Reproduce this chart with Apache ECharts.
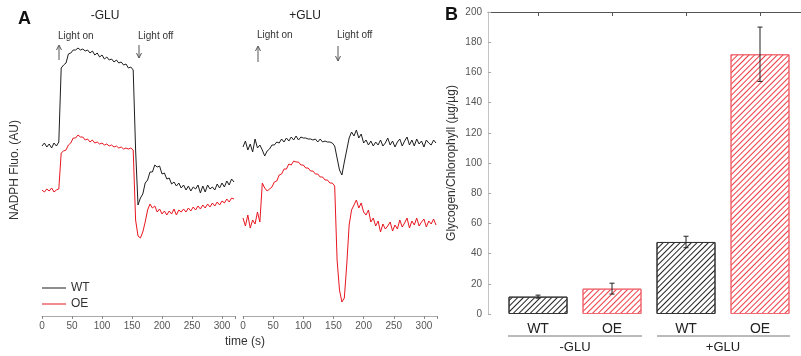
<!DOCTYPE html>
<html>
<head>
<meta charset="utf-8">
<script src="https://cdn.jsdelivr.net/npm/echarts@6/dist/echarts.min.js"></script>
<style>html,body{margin:0;padding:0;background:#fff}#c{width:801px;height:356px}</style>
</head>
<body>
<div id="c"></div>
<script>
// ---- Panel A: time samples (s) ----
const time = [0,4,8,12,16,20,24,28,32,36,40,44,48,52,56,60,64,68,72,76,80,84,88,92,96,100,104,108,112,116,120,124,128,132,136,140,144,148,152,156,160,164,168,172,176,180,184,188,192,196,200,204,208,212,216,220,224,228,232,236,240,244,248,252,256,260,264,268,272,276,280,284,288,292,296,300,304,308,312,316,320];
// NADPH fluorescence (AU), -GLU
const wtMinusGlu = [170,173,169,172,168,173,170,174,
  248,251,253,262,263,266,266,268,266,267,265,266,263,265,261,263,259,261,257,259,256,257,254,256,253,254,251,252,248,249,246,
  166,111,118,122,133,136,144,144,151,149,150,142,143,137,138,132,134,130,133,128,131,126,130,125,129,127,131,123,130,124,131,127,129,126,132,128,133,129,135,131,137,134];
const oeMinusGlu = [126,124,127,125,128,124,126,127,
  163,165,166,171,173,178,178,181,179,179,176,177,174,176,173,174,172,173,171,172,170,171,169,170,168,169,167,168,167,168,166,
  96,80,78,84,94,106,112,108,110,104,107,102,105,101,105,102,107,101,106,104,107,104,108,105,109,106,110,107,111,108,112,109,113,110,114,111,115,113,117,114,118,117];
// NADPH fluorescence (AU), +GLU
const wtPlusGlu = [169,175,166,172,164,177,168,171,
  166,160,165,167,171,171,174,173,177,174,178,175,179,176,180,176,179,178,178,177,177,176,177,174,177,174,175,174,174,173,170,
  158,146,141,154,166,178,184,180,186,178,182,173,176,171,175,170,174,171,176,170,173,178,171,175,169,174,177,170,175,179,171,176,170,177,172,175,169,176,173,171,176,173];
const oePlusGlu = [98,90,101,88,96,92,104,94,
  133,128,125,127,129,134,135,141,142,147,147,152,151,155,154,154,151,151,148,148,145,145,142,142,139,139,136,136,133,133,130,
  56,26,14,18,51,91,106,111,116,108,113,104,101,106,94,98,90,95,84,92,87,90,94,85,91,87,96,89,93,98,88,95,91,98,90,94,97,89,95,92,97,91];
const timeTicks = [0,50,100,150,200,250,300];

// ---- Panel B ----
const barLabels = ['WT','OE','WT','OE'];
const barGroups = ['-GLU','+GLU'];
const glycogen = [11.5, 16.8, 47.7, 172];
const glycogenErr = [1.0, 3.6, 3.8, 18];

const FONT = 'Liberation Sans, Arial, Helvetica, sans-serif';
const BLACK = '#1e1e1e';
const RED = '#e8161f';

const chart = echarts.init(document.getElementById('c'), null, {renderer: 'canvas'});

function pairs(vals){ return time.map((t,i)=>[t, vals[i]]); }

function timeAxis(gridIndex){
  return {
    type: 'value', gridIndex, min: 0, max: 322,
    axisLine: {show: true, onZero: false, lineStyle: {color: '#aaa', width: 1}},
    axisTick: {show: true, length: 3, lineStyle: {color: '#888'}, customValues: timeTicks.concat([322])},
    axisLabel: {color: '#555', fontSize: 10, fontFamily: FONT, margin: 5, customValues: timeTicks},
    splitLine: {show: false}
  };
}
function hiddenY(gridIndex){
  return {type: 'value', gridIndex, min: 0, max: 280, show: false, splitLine: {show: false}};
}
function trace(name, vals, color, idx){
  return {
    type: 'line', name, data: pairs(vals), xAxisIndex: idx, yAxisIndex: idx,
    symbol: 'none', showSymbol: false, smooth: false,
    lineStyle: {color, width: 1}, itemStyle: {color}, z: name === 'WT' ? 3 : 2
  };
}

const hatch = (c) => ({
  symbol: 'rect', symbolSize: 1, dashArrayX: [1, 0], dashArrayY: [1, 3],
  rotation: -Math.PI / 4, color: c
});

const LEG_ICON = 'path://M0,0L0.01,0L0.01,0.01L0,0.01Z M0,4.5L24,4.5L24,5.5L0,5.5Z M23.99,9.99L24,9.99L24,10L23.99,10Z';

const option = {
  animation: false,
  backgroundColor: '#fff',
  textStyle: {fontFamily: FONT},
  grid: [
    {left: 42, top: 36, width: 193.2, height: 280},
    {left: 243, top: 36, width: 194.2, height: 280},
    {left: 488, top: 12, right: 0, height: 302}
  ],
  xAxis: [
    timeAxis(0),
    timeAxis(1),
    {
      type: 'value', gridIndex: 2, min: -0.676, max: 3.554, position: 'bottom',
      axisLine: {show: false, onZero: false}, axisTick: {show: false}, splitLine: {show: false},
      axisLabel: {color: '#222', fontSize: 14, fontFamily: FONT, margin: 8,
        customValues: [0,1,2,3], formatter: (v) => barLabels[Math.round(v)]}
    },
    {
      type: 'value', gridIndex: 2, min: -0.676, max: 3.554, position: 'top',
      axisLine: {show: true, onZero: false, lineStyle: {color: '#555', width: 1}},
      axisTick: {show: true, inside: true, length: 4, lineStyle: {color: '#555'}, customValues: [0,1,2,3]},
      axisLabel: {show: false}, splitLine: {show: false}
    }
  ],
  yAxis: [
    hiddenY(0), hiddenY(1),
    {
      type: 'value', gridIndex: 2, min: 0, max: 200, interval: 20,
      name: 'Glycogen/Chlorophyll (µg/µg)', nameLocation: 'middle', nameGap: 30,
      nameTextStyle: {color: '#333', fontSize: 12, fontFamily: FONT},
      axisLine: {show: true, onZero: false, lineStyle: {color: '#c4c4c4'}},
      axisTick: {show: true, inside: true, length: 3, lineStyle: {color: '#aaa'}},
      axisLabel: {color: '#555', fontSize: 10, fontFamily: FONT, margin: 6},
      splitLine: {show: false}
    }
  ],
  legend: {
    orient: 'vertical', left: 42, top: 282, padding: 0, itemWidth: 24, itemHeight: 10, itemGap: 4,
    icon: LEG_ICON,
    textStyle: {color: '#333', fontSize: 12, fontFamily: FONT},
    data: ['WT', 'OE']
  },
  series: [
    trace('OE', oeMinusGlu, RED, 0),
    trace('WT', wtMinusGlu, BLACK, 0),
    trace('OE', oePlusGlu, RED, 1),
    trace('WT', wtPlusGlu, BLACK, 1),
    {
      type: 'bar', xAxisIndex: 2, yAxisIndex: 2, barWidth: 59,
      data: glycogen.map((v, i) => {
        const c = barLabels[i] === 'WT' ? '#222' : '#ee3a44';
        return {
          value: [i, v],
          itemStyle: {color: '#fff', borderColor: barLabels[i] === 'WT' ? '#333' : '#f06a72', borderWidth: 1, decal: hatch(c)}
        };
      }),
      z: 2
    },
    {
      type: 'custom', xAxisIndex: 2, yAxisIndex: 2, z: 5,
      data: glycogen.map((v, i) => [i, v - glycogenErr[i], v + glycogenErr[i]]),
      renderItem: function (params, api) {
        const x = api.value(0);
        const lo = api.coord([x, api.value(1)]);
        const hi = api.coord([x, api.value(2)]);
        const w = 2.5;
        const st = {stroke: '#222', lineWidth: 1};
        return {type: 'group', children: [
          {type: 'line', shape: {x1: lo[0], y1: lo[1], x2: hi[0], y2: hi[1]}, style: st},
          {type: 'line', shape: {x1: hi[0]-w, y1: hi[1], x2: hi[0]+w, y2: hi[1]}, style: st},
          {type: 'line', shape: {x1: lo[0]-w, y1: lo[1], x2: lo[0]+w, y2: lo[1]}, style: st}
        ]};
      }
    }
  ],
  graphic: [
    {type: 'text', x: 18, y: 19, style: {text: 'A', font: 'bold 18px ' + FONT, fill: '#111', textVerticalAlign: 'middle'}},
    {type: 'text', x: 445, y: 15, style: {text: 'B', font: 'bold 18px ' + FONT, fill: '#111', textVerticalAlign: 'middle'}},
    {type: 'text', x: 105, y: 16, style: {text: '-GLU', font: '12px ' + FONT, fill: '#222', textAlign: 'center', textVerticalAlign: 'middle'}},
    {type: 'text', x: 305, y: 16, style: {text: '+GLU', font: '12px ' + FONT, fill: '#222', textAlign: 'center', textVerticalAlign: 'middle'}},
    {type: 'text', x: 58, y: 36, style: {text: 'Light on', font: '10px ' + FONT, fill: '#333', textVerticalAlign: 'middle'}},
    {type: 'text', x: 138, y: 36, style: {text: 'Light off', font: '10px ' + FONT, fill: '#333', textVerticalAlign: 'middle'}},
    {type: 'text', x: 257, y: 35, style: {text: 'Light on', font: '10px ' + FONT, fill: '#333', textVerticalAlign: 'middle'}},
    {type: 'text', x: 337, y: 35, style: {text: 'Light off', font: '10px ' + FONT, fill: '#333', textVerticalAlign: 'middle'}},
    // arrows
    {type: 'line', shape: {x1: 59, y1: 60, x2: 59, y2: 46}, style: {stroke: '#555', lineWidth: 1}},
    {type: 'polyline', shape: {points: [[56.5, 50], [59, 45], [61.5, 50]]}, style: {stroke: '#555', lineWidth: 1, fill: null}},
    {type: 'line', shape: {x1: 139, y1: 45, x2: 139, y2: 58}, style: {stroke: '#555', lineWidth: 1}},
    {type: 'polyline', shape: {points: [[136.5, 53], [139, 58], [141.5, 53]]}, style: {stroke: '#555', lineWidth: 1, fill: null}},
    {type: 'line', shape: {x1: 258, y1: 62, x2: 258, y2: 47}, style: {stroke: '#555', lineWidth: 1}},
    {type: 'polyline', shape: {points: [[255.5, 51], [258, 46], [260.5, 51]]}, style: {stroke: '#555', lineWidth: 1, fill: null}},
    {type: 'line', shape: {x1: 338, y1: 46, x2: 338, y2: 61}, style: {stroke: '#555', lineWidth: 1}},
    {type: 'polyline', shape: {points: [[335.5, 56], [338, 61], [340.5, 56]]}, style: {stroke: '#555', lineWidth: 1, fill: null}},
    {type: 'text', x: 15, y: 170, rotation: Math.PI / 2, style: {text: 'NADPH Fluo. (AU)', font: '12px ' + FONT, fill: '#333', textAlign: 'center', textVerticalAlign: 'middle'}},
    {type: 'text', x: 245, y: 342, style: {text: 'time (s)', font: '12px ' + FONT, fill: '#333', textAlign: 'center', textVerticalAlign: 'middle'}},
    // group brackets panel B
    {type: 'line', shape: {x1: 508, y1: 336, x2: 642, y2: 336}, style: {stroke: '#777', lineWidth: 1}},
    {type: 'line', shape: {x1: 657, y1: 336, x2: 790, y2: 336}, style: {stroke: '#777', lineWidth: 1}},
    {type: 'text', x: 575, y: 347, style: {text: barGroups[0], font: '13px ' + FONT, fill: '#222', textAlign: 'center', textVerticalAlign: 'middle'}},
    {type: 'text', x: 723, y: 347, style: {text: barGroups[1], font: '13px ' + FONT, fill: '#222', textAlign: 'center', textVerticalAlign: 'middle'}}
  ]
};
chart.setOption(option);
</script>
</body>
</html>
